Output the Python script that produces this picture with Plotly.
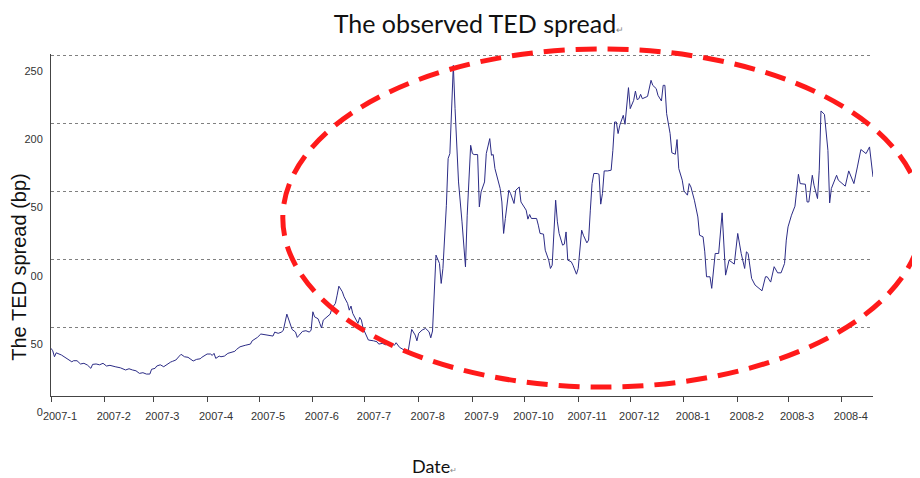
import plotly.graph_objects as go

# ---- data (TED spread, bp) ----
dates = [
    # 2007-01
    "2007-01-01", "2007-01-02", "2007-01-03", "2007-01-04", "2007-01-07", "2007-01-10", "2007-01-13",
    "2007-01-14", "2007-01-16", "2007-01-18", "2007-01-20", "2007-01-22", "2007-01-24", "2007-01-25",
    "2007-01-27", "2007-01-29", "2007-01-31",
    # 2007-02
    "2007-02-02", "2007-02-04", "2007-02-07", "2007-02-10", "2007-02-13", "2007-02-15", "2007-02-17",
    "2007-02-19", "2007-02-21", "2007-02-23", "2007-02-25", "2007-02-27", "2007-02-28",
    # 2007-03
    "2007-03-02", "2007-03-03", "2007-03-05", "2007-03-07", "2007-03-09", "2007-03-11", "2007-03-12",
    "2007-03-14", "2007-03-16", "2007-03-17", "2007-03-19", "2007-03-21", "2007-03-24", "2007-03-26",
    "2007-03-28", "2007-03-29",
    # 2007-04
    "2007-04-01", "2007-04-03", "2007-04-04", "2007-04-05", "2007-04-06", "2007-04-08", "2007-04-09",
    "2007-04-11", "2007-04-13", "2007-04-15", "2007-04-17", "2007-04-18", "2007-04-20", "2007-04-23",
    "2007-04-26", "2007-04-27", "2007-04-30",
    # 2007-05
    "2007-05-02", "2007-05-05", "2007-05-07", "2007-05-09", "2007-05-10", "2007-05-12", "2007-05-14",
    "2007-05-15", "2007-05-17", "2007-05-19", "2007-05-20", "2007-05-22", "2007-05-23", "2007-05-24",
    "2007-05-26", "2007-05-28", "2007-05-30", "2007-05-31",
    # 2007-06
    "2007-06-01", "2007-06-02", "2007-06-04", "2007-06-05", "2007-06-06", "2007-06-07", "2007-06-09",
    "2007-06-11", "2007-06-12", "2007-06-14", "2007-06-15", "2007-06-16", "2007-06-18", "2007-06-19",
    "2007-06-21", "2007-06-22", "2007-06-23", "2007-06-24", "2007-06-26", "2007-06-27", "2007-06-28",
    "2007-06-29", "2007-06-30",
    # 2007-07
    "2007-07-02", "2007-07-03", "2007-07-06", "2007-07-08", "2007-07-09", "2007-07-11", "2007-07-13",
    "2007-07-16", "2007-07-18", "2007-07-19", "2007-07-21", "2007-07-23", "2007-07-26", "2007-07-27",
    "2007-07-28", "2007-07-30", "2007-07-31",
    # 2007-08
    "2007-08-01", "2007-08-03", "2007-08-05", "2007-08-07", "2007-08-08", "2007-08-09", "2007-08-11",
    "2007-08-13", "2007-08-14", "2007-08-15", "2007-08-17", "2007-08-18", "2007-08-19", "2007-08-20",
    "2007-08-21", "2007-08-22", "2007-08-23", "2007-08-24", "2007-08-26", "2007-08-28", "2007-08-29",
    "2007-08-31",
    # 2007-09
    "2007-09-01", "2007-09-02", "2007-09-04", "2007-09-05", "2007-09-06", "2007-09-08", "2007-09-09",
    "2007-09-10", "2007-09-11", "2007-09-12", "2007-09-13", "2007-09-14", "2007-09-15", "2007-09-17",
    "2007-09-18", "2007-09-19", "2007-09-20", "2007-09-22", "2007-09-23", "2007-09-25", "2007-09-26",
    "2007-09-27", "2007-09-28", "2007-09-29", "2007-09-30",
    # 2007-10
    "2007-10-02", "2007-10-03", "2007-10-04", "2007-10-05", "2007-10-08", "2007-10-09", "2007-10-10",
    "2007-10-12", "2007-10-13", "2007-10-15", "2007-10-16", "2007-10-17", "2007-10-19", "2007-10-20",
    "2007-10-21", "2007-10-23", "2007-10-24", "2007-10-25", "2007-10-26", "2007-10-28", "2007-10-29",
    "2007-10-31",
    # 2007-11
    "2007-11-01", "2007-11-03", "2007-11-04", "2007-11-06", "2007-11-07", "2007-11-08", "2007-11-09",
    "2007-11-10", "2007-11-12", "2007-11-13", "2007-11-14", "2007-11-15", "2007-11-16", "2007-11-18",
    "2007-11-20", "2007-11-21", "2007-11-22", "2007-11-23", "2007-11-24", "2007-11-25", "2007-11-27",
    "2007-11-28", "2007-11-29", "2007-11-30",
    # 2007-12
    "2007-12-01", "2007-12-03", "2007-12-04", "2007-12-05", "2007-12-06", "2007-12-07", "2007-12-08",
    "2007-12-10", "2007-12-11", "2007-12-13", "2007-12-14", "2007-12-16", "2007-12-17", "2007-12-19",
    "2007-12-20", "2007-12-21", "2007-12-22", "2007-12-24", "2007-12-25", "2007-12-27", "2007-12-28",
    "2007-12-29", "2007-12-31",
    # 2008-01
    "2008-01-01", "2008-01-03", "2008-01-04", "2008-01-05", "2008-01-07", "2008-01-09", "2008-01-10",
    "2008-01-12", "2008-01-13", "2008-01-14", "2008-01-16", "2008-01-17", "2008-01-19", "2008-01-21",
    "2008-01-23", "2008-01-24", "2008-01-25", "2008-01-27", "2008-01-28", "2008-01-30",
    # 2008-02
    "2008-02-01", "2008-02-03", "2008-02-05", "2008-02-06", "2008-02-07", "2008-02-09", "2008-02-11",
    "2008-02-13", "2008-02-15", "2008-02-17", "2008-02-18", "2008-02-20", "2008-02-22", "2008-02-24",
    "2008-02-26", "2008-02-28", "2008-02-29",
    # 2008-03
    "2008-03-01", "2008-03-03", "2008-03-05", "2008-03-06", "2008-03-07", "2008-03-08", "2008-03-11",
    "2008-03-12", "2008-03-13", "2008-03-15", "2008-03-16", "2008-03-18", "2008-03-19", "2008-03-20",
    "2008-03-22", "2008-03-24", "2008-03-25", "2008-03-26", "2008-03-29", "2008-03-30",
    # 2008-04
    "2008-04-01", "2008-04-03", "2008-04-05", "2008-04-07", "2008-04-08", "2008-04-10", "2008-04-12",
    "2008-04-15", "2008-04-17", "2008-04-19",
]

ted_bp = [
    # 2007-01
    35.0, 33.2, 28.8, 31.7, 30.1, 27.6, 25.1, 25.9, 25.9, 23.5, 24.0, 22.7, 20.3, 23.2, 23.5, 22.9, 24.0,
    # 2007-02
    22.0, 22.5, 21.5, 20.7, 19.1, 20.0, 19.1, 18.5, 16.6, 17.1, 16.1, 16.1, 19.6,
    # 2007-03
    20.3, 22.0, 22.9, 21.5, 23.5, 24.9, 25.4, 26.4, 29.3, 30.6, 28.8, 28.4, 25.7, 26.9, 27.3, 28.4,
    # 2007-04
    30.8, 30.8, 29.8, 31.3, 27.6, 29.3, 28.8, 29.3, 31.3, 32.3, 32.8, 34.2, 36.1, 37.2, 38.1, 40.5, 43.0,
    # 2007-05
    45.5, 44.7, 44.0, 44.0, 46.9, 46.0, 46.9, 48.4, 60.1, 53.3, 48.9, 46.9, 43.0, 44.5, 47.4, 47.9, 46.9, 48.4,
    # 2007-06
    61.8, 58.1, 56.7, 53.3, 49.9, 55.7, 58.1, 60.1, 64.3, 68.0, 74.0, 80.6, 76.5, 72.8, 68.0, 63.0, 66.0,
    60.6, 55.7, 53.3, 57.7, 55.7, 49.6,
    # 2007-07
    44.7, 41.1, 40.5, 39.8, 38.1, 38.6, 37.6, 38.6, 37.2, 39.1, 35.7, 34.2, 33.2, 41.1, 48.9, 44.7, 40.5,
    # 2007-08
    46.0, 48.4, 49.6, 47.1, 42.7, 47.7, 103.4, 97.3, 82.6, 93.6, 140.0, 174.3, 177.9, 213.3, 242.7, 210.9,
    186.4, 157.1, 127.8, 94.8, 132.7, 184.0,
    # 2007-09
    177.9, 177.2, 177.2, 138.8, 149.8, 157.1, 177.9, 182.8, 188.9, 176.7, 177.2, 166.9, 162.0, 152.3, 142.4,
    119.3, 130.3, 151.0, 148.6, 141.3, 151.0, 152.3, 153.4, 142.4, 140.0,
    # 2007-10
    136.4, 129.8, 133.2, 130.3, 130.3, 125.4, 119.3, 118.8, 107.0, 99.7, 93.6, 96.0, 143.7, 127.8, 119.3,
    110.7, 111.4, 120.4, 99.7, 98.5, 96.0, 89.4,
    # 2007-11
    93.6, 121.7, 118.0, 112.4, 114.4, 136.4, 155.9, 163.3, 163.3, 162.7, 140.8, 148.6, 165.2, 165.2, 165.7,
    180.3, 201.1, 201.1, 192.6, 198.7, 206.0, 199.4, 214.6, 226.3,
    # 2007-12
    210.9, 217.0, 223.8, 217.5, 218.2, 221.4, 218.2, 219.0, 219.9, 231.7, 228.0, 225.6, 220.7, 216.5, 228.0,
    228.0, 207.2, 192.6, 178.5, 177.4, 188.2, 166.9, 158.4,
    # 2008-01
    150.5, 147.4, 155.9, 153.4, 143.7, 131.4, 118.0, 116.8, 105.8, 87.5, 87.5, 79.0, 104.6, 104.6, 134.4,
    111.9, 88.7, 99.7, 98.5, 96.8,
    # 2008-02
    119.3, 104.6, 93.6, 105.8, 104.6, 86.3, 81.4, 79.0, 77.2, 87.5, 87.5, 83.6, 94.9, 90.4, 90.4, 97.3, 114.4,
    # 2008-03
    124.1, 132.7, 139.3, 151.0, 162.7, 155.9, 155.4, 142.4, 142.4, 162.0, 154.7, 144.9, 165.7, 209.2, 206.7,
    180.3, 141.7, 152.3, 162.0, 158.4,
    # 2008-04
    155.9, 154.0, 165.2, 158.4, 155.9, 168.1, 180.9, 177.9, 182.8, 160.8,
]

month_ticks = [
    "2007-01-01", "2007-02-01", "2007-03-01", "2007-04-01", "2007-05-01", "2007-06-01",
    "2007-07-01", "2007-08-01", "2007-09-01", "2007-10-01", "2007-11-01", "2007-12-01",
    "2008-01-01", "2008-02-01", "2008-03-01", "2008-04-01",
]
month_labels = [
    "2007-1", "2007-2", "2007-3", "2007-4", "2007-5", "2007-6", "2007-7", "2007-8",
    "2007-9", "2007-10", "2007-11", "2007-12", "2008-1", "2008-2", "2008-3", "2008-4",
]
y_ticks = [0, 50, 100, 150, 200, 250]
y_labels = ["0", "50", "100", "150", "200", "250"]

# The page body adds an 8px offset, so the figure is 8px smaller than the window
FIG_W, FIG_H = 912, 470

TICK_FONT = dict(family="Liberation Sans, Arial, sans-serif", size=11, color="#333333")
TITLE_FONT = "Lato, Carlito, Calibri, Open Sans, sans-serif"

fig = go.Figure()
fig.add_trace(go.Scatter(
    x=dates, y=ted_bp, mode="lines",
    line=dict(color="#2c2c86", width=1),
    showlegend=False, hoverinfo="skip",
))

fig.update_layout(
    width=FIG_W, height=FIG_H,
    margin=dict(l=43, r=47, t=46, b=82),
    paper_bgcolor="white", plot_bgcolor="white",
    title=dict(
        text="The observed TED spread<span style='font-size:9px;color:#888'>↵</span>",
        x=471 / FIG_W, xanchor="center", y=1 - 16 / FIG_H, yanchor="middle",
        font=dict(family=TITLE_FONT, size=25, color="#111111"),
    ),
    xaxis=dict(
        type="date",
        range=["2007-01-01", "2008-04-19"],
        tickmode="array", tickvals=month_ticks, ticktext=month_labels,
        ticks="outside", ticklen=5, tickcolor="#444444", tickwidth=1,
        showline=True, linecolor="#444444", linewidth=1,
        showgrid=False, zeroline=False, automargin=False,
        tickfont=TICK_FONT, ticklabelshift=9, ticklabelstandoff=5,
    ),
    yaxis=dict(
        range=[0, 251],
        tickmode="array", tickvals=y_ticks, ticktext=y_labels,
        ticks="", showline=True, linecolor="#444444", linewidth=1,
        showgrid=True, gridcolor="#808080", gridwidth=1, griddash="dot",
        zeroline=False, automargin=False,
        tickfont=TICK_FONT, ticklabelshift=16, ticklabelstandoff=5,
    ),
    shapes=[dict(
        type="circle", xref="paper", yref="paper",
        x0=0.282, x1=1.060, y0=0.026, y1=1.015,
        line=dict(color="#ff1a1a", width=5, dash="21px,11px"),
        layer="above",
    )],
    annotations=[
        dict(
            text="Date<span style='font-size:8px;color:#888'>↵</span>",
            xref="paper", yref="paper", x=0.466, y=-0.205,
            xanchor="center", yanchor="middle", showarrow=False,
            font=dict(family=TITLE_FONT, size=18, color="#111111"),
        ),
        dict(
            text="The TED spread (bp)",
            xref="paper", yref="paper", x=-0.0389, y=0.378,
            xanchor="center", yanchor="middle", showarrow=False, textangle=-90,
            font=dict(family="Liberation Sans, Arial, sans-serif", size=20, color="#111111"),
            bgcolor="white", borderpad=0,
        ),
    ],
)

fig.write_html("out.html")
